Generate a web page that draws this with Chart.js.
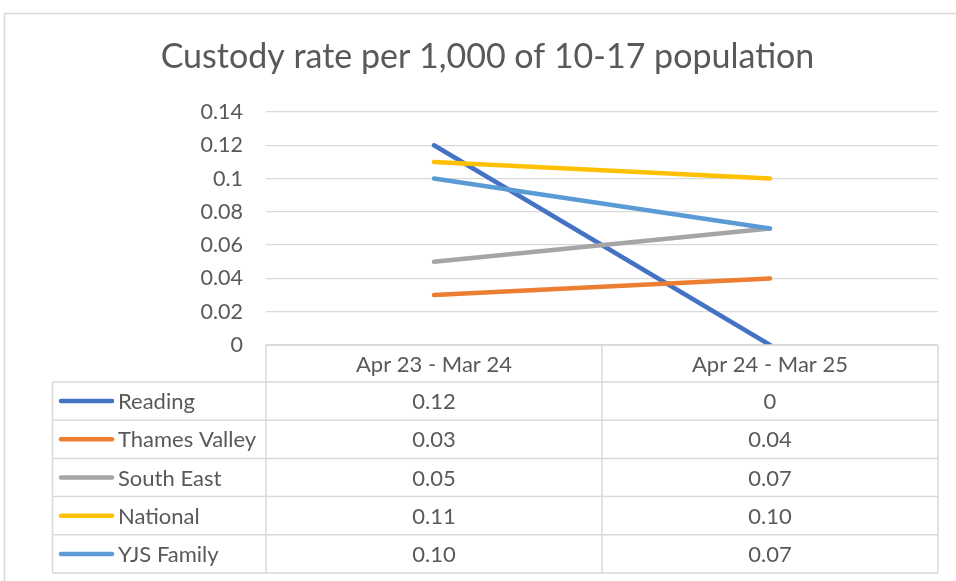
<!DOCTYPE html>
<html>
<head>
<meta charset="utf-8">
<script src="https://cdn.jsdelivr.net/npm/chart.js@4.4.1/dist/chart.umd.min.js"></script>
<style>
  html, body { margin: 0; padding: 0; background: #ffffff; }
  #wrap { width: 956px; height: 581px; position: relative; }
</style>
</head>
<body>
<div id="wrap"><canvas id="c" width="956" height="581"></canvas></div>
<script>
const titleText = "Custody rate per 1,000 of 10-17 population";
const categories = ["Apr 23 - Mar 24", "Apr 24 - Mar 25"];
const seriesNames = ["Reading", "Thames Valley", "South East", "National", "YJS Family"];
const reading = [0.12, 0];
const thamesValley = [0.03, 0.04];
const southEast = [0.05, 0.07];
const national = [0.11, 0.10];
const yjsFamily = [0.10, 0.07];
const seriesColors = ["#4472C4", "#ED7D31", "#A5A5A5", "#FFC000", "#5B9BD5"];
const yTicks = [0, 0.02, 0.04, 0.06, 0.08, 0.1, 0.12, 0.14];

const allSeries = [reading, thamesValley, southEast, national, yjsFamily];
const FONT = "Lato, 'Open Sans', sans-serif";
const TEXT = "#595959";
const LINE = "#D9D9D9";

function fmt(v) { return v === 0 ? "0" : v.toFixed(2); }

const tablePlugin = {
  id: "dataTable",
  beforeDraw(chart) {
    const ctx = chart.ctx;
    ctx.save();
    ctx.strokeStyle = LINE;
    ctx.lineWidth = 1.5;
    ctx.strokeRect(4.5, 13.5, 1000, 700);
    ctx.restore();
  },
  afterDraw(chart) {
    const ctx = chart.ctx;
    const area = chart.chartArea;
    const xs = chart.scales.x;
    const left = area.left, right = area.right, top = area.bottom;
    const headerH = 37;
    const rowH = 38.2;
    const legendLeft = 52.5;
    const colEdges = [left];
    for (let i = 0; i < categories.length - 1; i++) {
      colEdges.push((xs.getPixelForValue(i) + xs.getPixelForValue(i + 1)) / 2);
    }
    colEdges.push(right);
    const bottom = top + headerH + rowH * seriesNames.length;
    ctx.save();
    ctx.strokeStyle = LINE;
    ctx.lineWidth = 1.5;
    ctx.beginPath();
    ctx.moveTo(left, top); ctx.lineTo(right, top);
    for (let r = 0; r <= seriesNames.length; r++) {
      const y = top + headerH + r * rowH;
      ctx.moveTo(legendLeft, y); ctx.lineTo(right, y);
    }
    colEdges.forEach(x => { ctx.moveTo(x, top); ctx.lineTo(x, bottom); });
    ctx.moveTo(legendLeft, top + headerH); ctx.lineTo(legendLeft, bottom);
    ctx.stroke();

    ctx.fillStyle = TEXT;
    ctx.font = "22px " + FONT;
    ctx.textBaseline = "middle";
    ctx.textAlign = "center";
    categories.forEach((c, i) => {
      ctx.fillText(c, xs.getPixelForValue(i), top + headerH / 2 + 1);
    });
    seriesNames.forEach((name, r) => {
      const cy = top + headerH + r * rowH + rowH / 2 + 1;
      ctx.strokeStyle = seriesColors[r];
      ctx.lineWidth = 4.5;
      ctx.lineCap = "round";
      ctx.beginPath();
      ctx.moveTo(61, cy - 1); ctx.lineTo(112, cy - 1);
      ctx.stroke();
      ctx.textAlign = "left";
      ctx.fillText(name, 118, cy);
      ctx.textAlign = "center";
      allSeries[r].forEach((v, i) => {
        ctx.fillText(fmt(v), xs.getPixelForValue(i), cy);
      });
    });
    ctx.restore();
  }
};

new Chart(document.getElementById("c"), {
  type: "line",
  data: {
    labels: categories,
    datasets: seriesNames.map((n, i) => ({
      label: n,
      data: allSeries[i],
      borderColor: seriesColors[i],
      backgroundColor: seriesColors[i],
      borderWidth: 4.5,
      borderCapStyle: "round",
      borderJoinStyle: "round",
      pointRadius: 0,
      tension: 0,
      order: seriesNames.length - i
    }))
  },
  options: {
    responsive: false,
    animation: false,
    devicePixelRatio: 1,
    layout: { padding: { left: 37, right: 18, top: 0, bottom: 0 } },
    plugins: {
      legend: { display: false },
      tooltip: { enabled: false },
      title: {
        display: true,
        text: titleText,
        color: TEXT,
        font: { family: FONT, size: 34, weight: "normal", lineHeight: 1.2 },
        padding: { top: 37, bottom: 34.2 }
      }
    },
    scales: {
      x: {
        offset: true,
        grid: { display: false },
        border: { display: false },
        ticks: { display: false },
        afterFit: s => { s.height = 236; }
      },
      y: {
        min: 0,
        max: 0.14,
        afterBuildTicks: s => { s.ticks = yTicks.map(v => ({ value: v })); },
        afterFit: s => { s.width = 229; },
        grid: { color: LINE, lineWidth: 1.3, drawTicks: false },
        border: { display: false },
        ticks: {
          color: TEXT,
          padding: 23,
          font: { family: FONT, size: 21.5 },
          callback: v => String(v)
        }
      }
    }
  },
  plugins: [tablePlugin]
});
</script>
</body>
</html>
